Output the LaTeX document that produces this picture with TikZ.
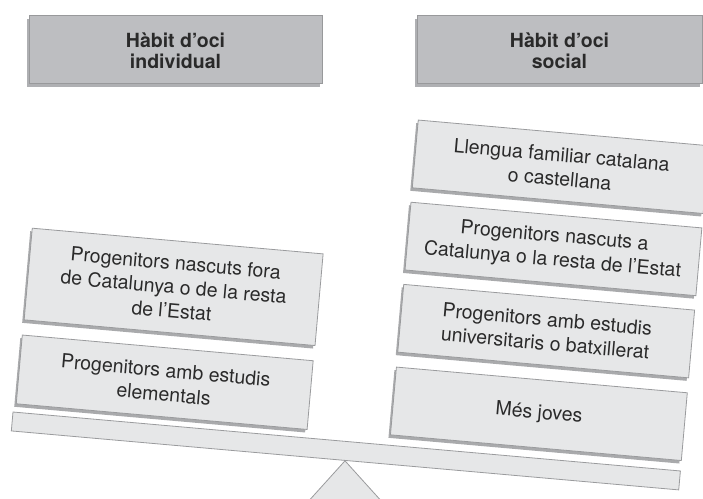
\documentclass[tikz,border=0pt]{standalone}
\usepackage{fontspec}
\setmainfont{TeX Gyre Heros}
\usetikzlibrary{shadows}
\definecolor{boxfill}{HTML}{E6E7E8}
\definecolor{boxline}{HTML}{9A9B9D}
\definecolor{boxshadow}{HTML}{A9AAAC}
\definecolor{headfill}{HTML}{BDBEC1}
\definecolor{headline}{HTML}{98999B}
\definecolor{headshadow}{HTML}{AFB0B3}
\definecolor{txt}{HTML}{2A2A2A}
\begin{document}
\begin{tikzpicture}[x=1pt,y=-1pt,
  headbox/.style={draw=headline, fill=headfill, line width=1pt, inner sep=0pt,
    drop shadow={shadow xshift=-2pt, shadow yshift=-4pt, fill=headshadow, opacity=1}},
  headtext/.style={inner sep=0pt, anchor=base, font=\fontsize{19.5}{21.5}\selectfont\bfseries, text=txt},
  itembox/.style={draw=boxline, fill=boxfill, line width=0.8pt, inner sep=0pt, align=center,
    transform shape, font=\fontsize{19.5}{24}\selectfont, text=txt,
    drop shadow={shadow xshift=-2pt, shadow yshift=-3pt, fill=boxshadow, opacity=1}},
  beamstyle/.style={draw=boxline, fill=boxfill, line width=0.8pt, inner sep=0pt},
]
\clip (0,0) rectangle (703,498);

\node[headbox, minimum width=293pt, minimum height=68pt] (h1) at (175.5,49) {};
\node[headtext] (h1a) at (175.5,47) {Hàbit d’oci};
\node[headtext] (h1b) at (175.5,68.5) {individual};
\node[headbox, minimum width=285pt, minimum height=68pt] (h2) at (559.5,49) {};
\node[headtext] (h2a) at (559.5,47) {Hàbit d’oci};
\node[headtext] (h2b) at (559.5,68.5) {social};

\begin{scope}[shift={(13,412)}, rotate=-5.05]
  \node[beamstyle, transform shape, minimum width=670pt, minimum height=19pt] (beam) at (335,9.5) {};
  \node[itembox, minimum width=292pt, minimum height=92pt] (a) at (149,-138.8)
    {Progenitors nascuts fora\\de Catalunya o de la resta\\de l’Estat};
  \node[itembox, minimum width=292pt, minimum height=69pt] (b) at (148.5,-43)
    {Progenitors amb estudis\\elementals};
  \node[itembox, minimum width=292pt, minimum height=68pt] (c) at (524,-292.5)
    {Llengua familiar catalana\\o castellana};
  \node[itembox, minimum width=292pt, minimum height=68pt] (d) at (524,-210)
    {Progenitors nascuts a\\Catalunya o la resta de l’Estat};
  \node[itembox, minimum width=292pt, minimum height=68pt] (e) at (524,-127.5)
    {Progenitors amb estudis\\universitaris o batxillerat};
  \node[itembox, minimum width=292pt, minimum height=68pt] (f) at (524,-44.5)
    {Més joves};
\end{scope}

\draw[beamstyle] (beam.south) -- ++(-56,62) -- ++(112,0) -- cycle;
\end{tikzpicture}
\end{document}
